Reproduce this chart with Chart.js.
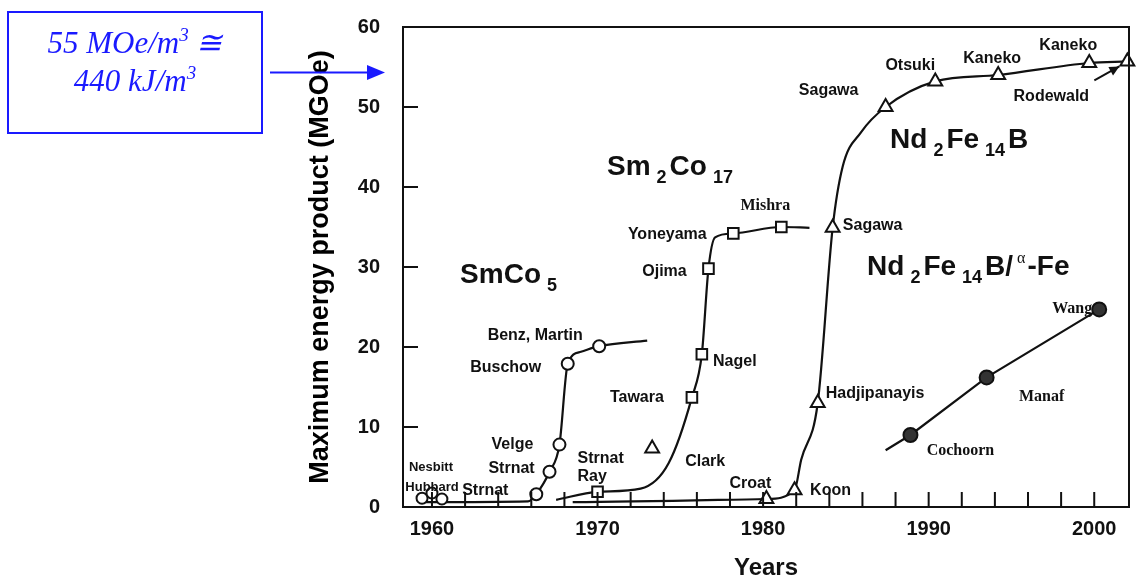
<!DOCTYPE html>
<html>
<head>
<meta charset="utf-8">
<script src="https://cdn.jsdelivr.net/npm/chart.js@4.4.0/dist/chart.umd.min.js"></script>
<style>
  html, body { margin: 0; padding: 0; background: #fff; }
  #wrap { position: relative; width: 1139px; height: 583px; }
  #note {
    position: absolute; left: 7px; top: 11px; width: 256px; height: 123px;
    box-sizing: border-box; border: 2px solid #1a1aff; padding-top: 11px;
    font-family: "Liberation Serif", "DejaVu Serif", serif; font-style: italic;
    font-size: 31px; line-height: 38px; color: #1a1aff; text-align: center;
  }
  #note .sup { font-size: 19px; vertical-align: 12px; line-height: 0; }
</style>
</head>
<body>
<div id="wrap">
  <canvas id="bhChart" width="1139" height="583"></canvas>
  <div id="note">55 MOe/m<span class="sup">3</span> &#8773;<br>440 kJ/m<span class="sup">3</span></div>
</div>
<script>
// SmCo5 - early points (open circles)
const smco5EarlyYears = [1959.4, 1960.0, 1960.6];
const smco5EarlyValues = [1.1, 1.75, 1.0];
const smco5EarlyNames = ["Hubbard", "Nesbitt", ""];

// SmCo5 curve (null name = curve waypoint, no marker)
const smco5Years = [1959.5, 1965.8, 1966.3, 1967.1, 1967.7, 1968.2, 1969.0, 1970.1, 1973.0];
const smco5Values = [0.6, 0.7, 1.6, 4.4, 7.8, 17.9, 19.4, 20.1, 20.8];
const smco5Names = [null, null, "Strnat", "Strnat", "Velge", "Buschow", null, "Benz, Martin", null];

// Sm2Co17 curve (open squares)
const sm2co17Years = [1967.5, 1970.0, 1972.6, 1974.3, 1975.7, 1976.3, 1976.7, 1977.1, 1978.2, 1981.1, 1982.8];
const sm2co17Values = [0.9, 1.9, 2.3, 5.5, 13.7, 19.1, 29.8, 33.7, 34.2, 35.0, 34.9];
const sm2co17Names = [null, "Strnat\nRay", null, null, "Tawara", "Nagel", "Ojima", null, "Yoneyama", "Mishra", null];

// isolated triangle
const clarkYears = [1973.3];
const clarkValues = [7.3];
const clarkNames = ["Clark"];

// Nd2Fe14B curve (open triangles)
const ndfebYears = [1968.5, 1980.2, 1981.9, 1982.3, 1983.3, 1984.2, 1984.8, 1985.9, 1987.4, 1990.4, 1994.2, 1999.7, 2002.0];
const ndfebValues = [0.6, 1.0, 2.1, 5.9, 13.0, 34.9, 42.5, 46.8, 50.0, 53.2, 54.0, 55.5, 55.7];
const ndfebNames = [null, "Croat", "Koon", null, "Hadjipanayis", "Sagawa", null, null, "Sagawa", "Otsuki", "Kaneko", "Kaneko", "Rodewald"];

// Nd2Fe14B/alpha-Fe nanocomposites (filled circles)
const nanoYears = [1987.4, 1988.9, 1993.5, 2000.3];
const nanoValues = [7.1, 9.0, 16.2, 24.7];
const nanoNames = [null, "Cochoorn", "Manaf", "Wang"];

const yTicks = [0, 10, 20, 30, 40, 50, 60];
const xTickLabels = [1960, 1970, 1980, 1990, 2000];

// label placement relative to the marker: [dx, dy, align]
const smco5EarlyOffsets = [[10, -11], [-1, -26], null];
const smco5Offsets = [null, null, [-51, -4], [-38, -3], [-47, 0], [-62, 4], null, [-64, -11], null];
const sm2co17Offsets = [null, [-20, -33, "left"], null, null, [-55, 0], [33, 7], [-44, 3], null, [-66, 1], [-16, -21], null];
const clarkOffsets = [[53, 13]];
const ndfebOffsets = [null, [-16, -15], [36, 0], null, [8, -9, "left"], [40, -2], null, null, [-57, -16], [-25, -16], [-6, -16], [-21, -17], [-76, 35]];
const nanoOffsets = [null, [50, 16], [55, 19], [-27, -1]];

const serifNames = ["Mishra", "Cochoorn", "Manaf", "Wang"];
const smallNames = ["Hubbard", "Nesbitt"];

const pts = (xs, ys) => xs.map((x, i) => ({ x, y: ys[i] }));
const radiusFor = (names, r) => ctx => (names[ctx.dataIndex] === null ? 0 : r);

function series(xs, ys, names, offsets, style, r, extra) {
  return Object.assign({
    data: pts(xs, ys),
    names,
    offsets,
    showLine: true,
    borderColor: "#111",
    borderWidth: 2.2,
    backgroundColor: "#fff",
    pointStyle: style,
    pointRadius: radiusFor(names, r),
    pointBorderWidth: 2,
    pointBorderColor: "#111",
    pointBackgroundColor: "#fff",
    cubicInterpolationMode: "monotone",
    clip: false
  }, extra || {});
}

// rich labels with sub/superscripts, anchored in data coordinates
const compoundLabels = [
  { x: 1961.7, y: 28.0, parts: [["SmCo", "n"], ["5", "sub"]] },
  { x: 1970.57, y: 41.5, parts: [["Sm", "n"], ["2", "sub"], ["Co", "n"], ["17", "sub"]] },
  { x: 1987.67, y: 44.9, parts: [["Nd", "n"], ["2", "sub"], ["Fe", "n"], ["14", "sub"], ["B", "n"]] },
  { x: 1986.28, y: 29.0, parts: [["Nd", "n"], ["2", "sub"], ["Fe", "n"], ["14", "sub"], ["B/", "n"], ["\u03b1", "sup"], ["-Fe", "n"]] }
];

const decorPlugin = {
  id: "decor",
  afterDraw(chart) {
    const ctx = chart.ctx;
    const area = chart.chartArea;
    const xs = chart.scales.x, ys = chart.scales.y;
    ctx.save();
    ctx.strokeStyle = "#111";
    ctx.lineWidth = 2;
    ctx.strokeRect(area.left, area.top, area.right - area.left, area.bottom - area.top);

    // inward tick marks
    ctx.beginPath();
    xs.ticks.forEach(t => {
      if (t.value % 2 !== 0 || t.value > 2000) return;
      const px = xs.getPixelForValue(t.value);
      ctx.moveTo(px, area.bottom);
      ctx.lineTo(px, area.bottom - 15);
    });
    ys.ticks.forEach(t => {
      if (t.value <= 0 || t.value >= 60) return;
      const py = ys.getPixelForValue(t.value);
      ctx.moveTo(area.left, py);
      ctx.lineTo(area.left + 15, py);
    });
    ctx.stroke();

    // point labels
    ctx.fillStyle = "#111";
    ctx.textBaseline = "middle";
    chart.data.datasets.forEach((ds, di) => {
      if (!ds.names) return;
      const meta = chart.getDatasetMeta(di);
      ds.names.forEach((name, i) => {
        if (!name || !ds.offsets[i]) return;
        const el = meta.data[i];
        const [dx, dy, align] = ds.offsets[i];
        if (serifNames.includes(name)) ctx.font = "bold 16px 'Liberation Serif', serif";
        else if (smallNames.includes(name)) ctx.font = "bold 13px 'Liberation Sans Narrow', 'Liberation Sans', sans-serif";
        else ctx.font = "bold 16px 'Liberation Sans', Arial, sans-serif";
        ctx.textAlign = align || "center";
        name.split("\n").forEach((line, k) => {
          ctx.fillText(line, el.x + dx, el.y + dy + k * 18);
        });
        if (name === "Rodewald") {
          // little arrow pointing to the last triangle
          const x0 = el.x - 33, y0 = el.y + 19, x1 = el.x - 8, y1 = el.y + 5;
          ctx.beginPath();
          ctx.moveTo(x0, y0);
          ctx.lineTo(x1, y1);
          ctx.stroke();
          const ang = Math.atan2(y1 - y0, x1 - x0);
          ctx.beginPath();
          ctx.moveTo(x1, y1);
          ctx.lineTo(x1 - 11 * Math.cos(ang - 0.45), y1 - 11 * Math.sin(ang - 0.45));
          ctx.lineTo(x1 - 11 * Math.cos(ang + 0.45), y1 - 11 * Math.sin(ang + 0.45));
          ctx.closePath();
          ctx.fill();
        }
      });
    });

    // compound names
    ctx.textAlign = "left";
    ctx.textBaseline = "alphabetic";
    compoundLabels.forEach(lab => {
      let x = xs.getPixelForValue(lab.x);
      const y = ys.getPixelForValue(lab.y);
      lab.parts.forEach(([txt, kind]) => {
        if (kind === "n") {
          ctx.font = "bold 28px 'Liberation Sans', Arial, sans-serif";
          ctx.fillText(txt, x, y);
          x += ctx.measureText(txt).width + 2;
        } else if (kind === "sub") {
          ctx.font = "bold 18px 'Liberation Sans', Arial, sans-serif";
          x += 4;
          ctx.fillText(txt, x, y + 8);
          x += ctx.measureText(txt).width + 3;
        } else {
          ctx.font = "16px 'Liberation Serif', serif";
          x += 2;
          ctx.fillText(txt, x, y - 12);
          x += ctx.measureText(txt).width + 2;
        }
      });
    });

    // blue arrow from the note box
    ctx.strokeStyle = "#1a1aff";
    ctx.fillStyle = "#1a1aff";
    ctx.lineWidth = 2;
    ctx.beginPath();
    ctx.moveTo(270, 72.5);
    ctx.lineTo(370, 72.5);
    ctx.stroke();
    ctx.beginPath();
    ctx.moveTo(385, 72.5);
    ctx.lineTo(367, 65);
    ctx.lineTo(367, 80);
    ctx.closePath();
    ctx.fill();
    ctx.restore();
  }
};

new Chart(document.getElementById("bhChart"), {
  type: "scatter",
  data: {
    datasets: [
      series(smco5EarlyYears, smco5EarlyValues, smco5EarlyNames, smco5EarlyOffsets, "circle", 5.5, { showLine: false }),
      series(smco5Years, smco5Values, smco5Names, smco5Offsets, "circle", 6),
      series(sm2co17Years, sm2co17Values, sm2co17Names, sm2co17Offsets, "rect", 7.5),
      series(clarkYears, clarkValues, clarkNames, clarkOffsets, "triangle", 8, { showLine: false }),
      series(ndfebYears, ndfebValues, ndfebNames, ndfebOffsets, "triangle", 8),
      series(nanoYears, nanoValues, nanoNames, nanoOffsets, "circle", 7, {
        cubicInterpolationMode: "default", tension: 0, pointBackgroundColor: "#333"
      })
    ]
  },
  options: {
    responsive: false,
    animation: false,
    layout: { padding: { left: 296, right: 9, top: 27, bottom: 0 } },
    plugins: { legend: { display: false }, tooltip: { enabled: false } },
    scales: {
      x: {
        type: "linear",
        min: 1958.25,
        max: 2002.1,
        afterFit: s => { s.height = 76; },
        grid: { display: false },
        border: { display: false },
        ticks: {
          stepSize: 2,
          autoSkip: false,
          includeBounds: false,
          maxRotation: 0,
          padding: 2,
          color: "#111",
          font: { family: "'Liberation Sans', Arial, sans-serif", size: 20, weight: "bold" },
          callback: v => (xTickLabels.includes(v) ? String(v) : "")
        },
        title: {
          display: true,
          text: "Years",
          color: "#111",
          padding: { top: 0, bottom: 0 },
          font: { family: "'Liberation Sans', Arial, sans-serif", size: 24, weight: "bold", lineHeight: 1.2 }
        }
      },
      y: {
        min: 0,
        max: 60,
        afterFit: s => { s.width = 107; },
        grid: { display: false },
        border: { display: false },
        ticks: {
          stepSize: 10,
          padding: 15,
          color: "#111",
          font: { family: "'Liberation Sans', Arial, sans-serif", size: 20, weight: "bold" },
          callback: v => (yTicks.includes(v) ? String(v) : "")
        },
        title: {
          display: true,
          text: "Maximum energy product (MGOe)",
          color: "#000",
          padding: { top: 8, bottom: 0 },
          font: { family: "'Liberation Sans', Arial, sans-serif", size: 27, weight: "bold", lineHeight: 1.2 }
        }
      }
    }
  },
  plugins: [decorPlugin]
});
</script>
</body>
</html>
